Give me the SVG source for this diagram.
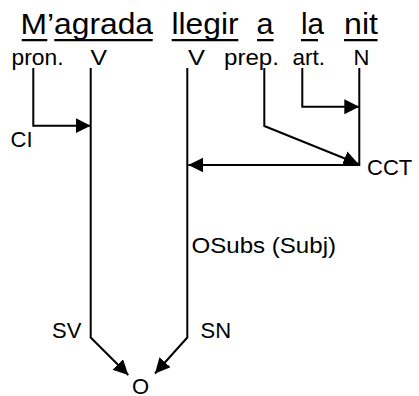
<svg xmlns="http://www.w3.org/2000/svg" width="419" height="396" viewBox="0 0 419 396">
<defs>
<marker id="ah" markerUnits="userSpaceOnUse" markerWidth="16" markerHeight="16" viewBox="0 0 16 16" refX="15" refY="7.5" orient="auto">
<path d="M0,0 L15,7.5 L0,15 Z" fill="#000"/>
</marker>
<style>
text{font-family:"Liberation Sans",Arial,sans-serif;fill:#000}
.t{font-size:30px}
.l{font-size:22px}
.u{stroke:#000;stroke-width:2.3;fill:none}
.c{stroke:#000;stroke-width:2;fill:none;stroke-linejoin:miter}
.a{marker-end:url(#ah)}
</style>
</defs>
<g id="title">
<text class="t" x="20.5" y="33.5" textLength="132.5" lengthAdjust="spacingAndGlyphs">M’agrada</text>
<text class="t" x="171.5" y="33.5" textLength="67" lengthAdjust="spacingAndGlyphs">llegir</text>
<text class="t" x="256.5" y="33.5" textLength="17" lengthAdjust="spacingAndGlyphs">a</text>
<text class="t" x="301" y="33.5" textLength="23" lengthAdjust="spacingAndGlyphs">la</text>
<text class="t" x="344" y="33.5" textLength="34" lengthAdjust="spacingAndGlyphs">nit</text>
<path class="u" d="M21.7,40.2H47.3M54.3,40.2H152.7M171.7,40.2H238.3M257,40.2H273.5M301,40.2H318M344,40.2H377.5"/>
</g>
<g id="n-pron"><text class="l" x="11.5" y="64.5" textLength="52" lengthAdjust="spacingAndGlyphs">pron.</text></g>
<g id="n-V1"><text class="l" x="90.5" y="64.5" textLength="16.5" lengthAdjust="spacingAndGlyphs">V</text></g>
<g id="n-V2"><text class="l" x="188" y="64.5" textLength="17" lengthAdjust="spacingAndGlyphs">V</text></g>
<g id="n-prep"><text class="l" x="224" y="64.5" textLength="55" lengthAdjust="spacingAndGlyphs">prep.</text></g>
<g id="n-art"><text class="l" x="292.5" y="64.5" textLength="32.5" lengthAdjust="spacingAndGlyphs">art.</text></g>
<g id="n-N"><text class="l" x="353.5" y="64.5">N</text></g>
<g id="n-CI"><text class="l" x="10.5" y="146.7">CI</text></g>
<g id="n-CCT"><text class="l" x="367" y="175">CCT</text></g>
<g id="n-OSubs"><text class="l" x="191.5" y="253.3" textLength="144.5" lengthAdjust="spacingAndGlyphs">OSubs (Subj)</text></g>
<g id="n-SV"><text class="l" x="52" y="338.3">SV</text></g>
<g id="n-SN"><text class="l" x="200.5" y="338.3">SN</text></g>
<g id="n-O"><text class="l" x="140.5" y="393.5" text-anchor="middle">O</text></g>
<g id="connectors">
<path class="c a" d="M33.3,68V125.7H90.7"/>
<path class="c a" d="M302.3,68V106.7H359.3"/>
<path class="c a" d="M264.3,68V126L358.5,164"/>
<path class="c a" d="M359.3,68V165H188.3"/>
<path class="c a" d="M90.7,68V337.5L128.3,375"/>
<path class="c a" d="M187.3,68V337.5L155,373.5"/>
</g>
</svg>
